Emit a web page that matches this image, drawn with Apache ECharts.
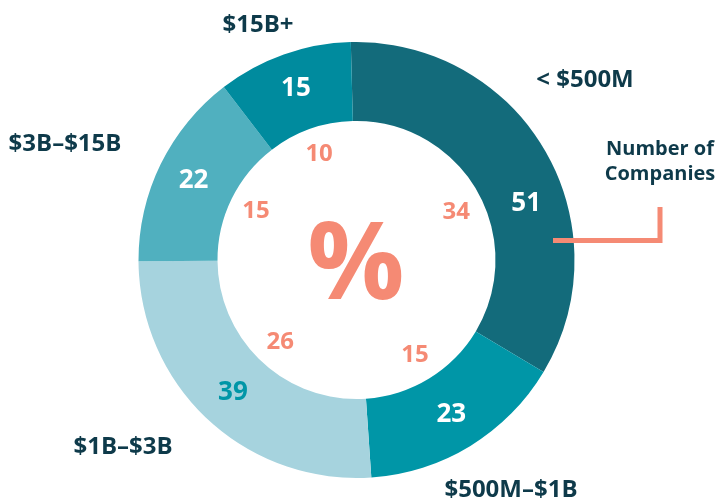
<!DOCTYPE html>
<html>
<head>
<meta charset="utf-8">
<script src="https://cdn.jsdelivr.net/npm/echarts@6/dist/echarts.min.js"></script>
<style>
	html, body { margin: 0; padding: 0; background: #fff; }
	#main { width: 720px; height: 504px; }
</style>
</head>
<body>
<div id="main"></div>
<script>
	// data
	var categories = ['< $500M', '$500M–$1B', '$1B–$3B', '$3B–$15B', '$15B+']
	var companies = [51, 23, 39, 22, 15]

	// styles
	var sliceColors = ['#136b7b', '#0096a7', '#a6d3de', '#50b0bf', '#008b9e']
	var valueColors = ['#ffffff', '#ffffff', '#0096a7', '#ffffff', '#ffffff']
	var salmon = '#f58a74'
	var navy = '#0e3a4a'
	var font = 'Open Sans'
	var center = [356.5, 260]
	// where the category names sit (label positions only)
	var namePos = [[585, 80], [511, 490], [123, 447], [65, 144], [258, 25]]

	var total = companies.reduce(function (a, b) { return a + b }, 0)

	var seriesData = categories.map(function (c, i) {
		return {
			name: c,
			value: companies[i],
			itemStyle: { color: sliceColors[i] },
			label: { color: valueColors[i] }
		}
	})

	var dom = echarts.init(document.getElementById('main'))
	var option = {
		animation: false,
		series: [
			{
				// ring with company counts
				type: 'pie',
				center: center,
				radius: [139, 218],
				startAngle: 91.5,
				clockwise: true,
				avoidLabelOverlap: false,
				emphasis: { disabled: true },
				data: seriesData,
				label: {
					show: true,
					position: 'inside',
					formatter: '{c}',
					fontFamily: font,
					fontWeight: 'bold',
					fontSize: 26
				},
				labelLine: { show: false },
				labelLayout: function (p) {
					if (p.dataIndex === 0) return { dx: 13, dy: 35 }
					return {}
				}
			},
			{
				// percentages inside the hole
				type: 'pie',
				center: center,
				radius: [100, 118],
				startAngle: 91.5,
				silent: true,
				emphasis: { disabled: true },
				itemStyle: { color: 'rgba(0,0,0,0)' },
				data: categories.map(function (c, i) {
					return { name: c, value: companies[i] }
				}),
				label: {
					show: true,
					position: 'inside',
					formatter: function (p) {
						return Math.round(p.value / total * 100)
					},
					color: salmon,
					fontFamily: font,
					fontWeight: 'bold',
					fontSize: 24
				},
				labelLine: { show: false },
				labelLayout: function (p) {
					if (p.dataIndex === 0) return { dx: 3, dy: 9 }
					return {}
				}
			},
			{
				// category names around the ring
				type: 'pie',
				center: center,
				radius: [139, 218],
				startAngle: 91.5,
				silent: true,
				emphasis: { disabled: true },
				itemStyle: { color: 'rgba(0,0,0,0)' },
				data: categories.map(function (c, i) {
					return { name: c, value: companies[i] }
				}),
				label: {
					show: true,
					position: 'inside',
					formatter: '{b}',
					color: navy,
					fontFamily: font,
					fontWeight: 'bold',
					fontSize: 24
				},
				labelLine: { show: false },
				labelLayout: function (p) {
					var pos = namePos[p.dataIndex]
					return { x: pos[0], y: pos[1], align: 'center', verticalAlign: 'middle' }
				}
			}
		],
		graphic: [
			{
				type: 'text',
				x: 356,
				y: 268,
				z: 100,
				style: {
					text: '%',
					fill: salmon,
					font: 'bold 108px "Open Sans"',
					textAlign: 'center',
					textVerticalAlign: 'middle'
				}
			},
			{
				type: 'text',
				x: 660,
				y: 162,
				z: 100,
				style: {
					text: 'Number of\nCompanies',
					fill: navy,
					font: 'bold 20px "Open Sans"',
					lineHeight: 25,
					textAlign: 'center',
					textVerticalAlign: 'middle'
				}
			},
			{
				type: 'polyline',
				z: 100,
				shape: { points: [[553, 240.5], [660, 240.5], [660, 207]] },
				style: { stroke: salmon, lineWidth: 5, fill: null }
			}
		]
	}
	dom.setOption(option)
	window.addEventListener('resize', function () { dom.resize() })
</script>
</body>
</html>
